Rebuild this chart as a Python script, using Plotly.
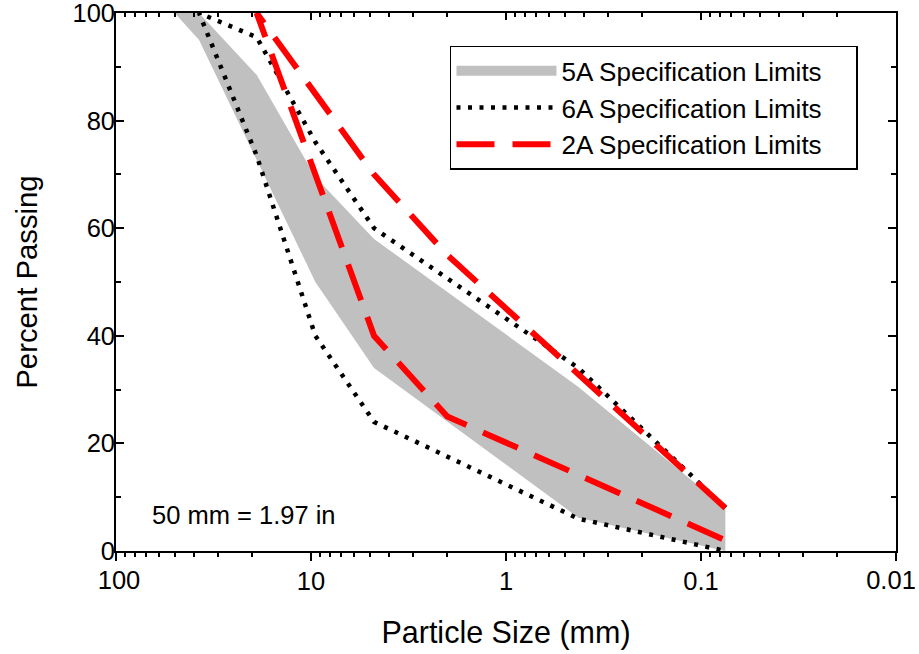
import plotly.graph_objects as go

# ---- data ----
sizes_5a_upper = [50, 37.5, 19, 9.5, 4.75, 0.425, 0.075]
pass_5a_upper = [100, 100, 88.5, 69.5, 58, 30.5, 8]
sizes_5a_lower = [50, 37.5, 9.5, 4.75, 0.425, 0.075]
pass_5a_lower = [100, 95, 50, 34, 6.2, 0]

sizes_6a_upper = [37.5, 19, 9.5, 4.75, 0.425, 0.075]
pass_6a_upper = [100, 95.5, 76, 60, 34, 8]
sizes_6a_lower = [37.5, 19, 9.5, 4.75, 0.425, 0.075]
pass_6a_lower = [100, 73.5, 40, 24, 6, 0]

sizes_2a_upper = [19, 4.75, 2.0, 0.075]
pass_2a_upper = [100, 70, 55, 8]
sizes_2a_lower = [19, 4.75, 2.0, 0.075]
pass_2a_lower = [100, 40, 25, 2]

x_tick_vals = [100, 10, 1, 0.1, 0.01]
x_tick_text = ["100", "10", "1", "0.1", "0.01"]
y_tick_vals = [0, 20, 40, 60, 80, 100]

names = ["5A Specification Limits", "6A Specification Limits", "2A Specification Limits"]
note_text = "50 mm = 1.97 in"

FONT = "Arial, Liberation Sans, sans-serif"
GRAY = "#c0c0c0"
CLEAR = "rgba(0,0,0,0)"

fig = go.Figure()

# 5A band (polygon: upper boundary then lower boundary reversed)
fig.add_trace(go.Scatter(
    x=sizes_5a_upper + sizes_5a_lower[::-1],
    y=pass_5a_upper + pass_5a_lower[::-1],
    mode="lines", fill="toself", fillcolor=GRAY,
    line=dict(width=0, color=GRAY), showlegend=False, hoverinfo="skip"))
# legend entry for the band
fig.add_trace(go.Scatter(
    x=[None], y=[None], mode="lines",
    line=dict(color=GRAY, width=16), name=names[0]))

# 6A limits (one dotted path: upper reversed, then lower)
fig.add_trace(go.Scatter(
    x=sizes_6a_upper[::-1] + sizes_6a_lower[1:],
    y=pass_6a_upper[::-1] + pass_6a_lower[1:],
    mode="lines", line=dict(color="black", width=4.5, dash="4px,7.5px"),
    name=names[1]))

# 2A limits
fig.add_trace(go.Scatter(
    x=sizes_2a_upper[::-1] + sizes_2a_lower[1:],
    y=pass_2a_upper[::-1] + pass_2a_lower[1:],
    mode="lines", line=dict(color="#ff0000", width=6, dash="38px,18px"),
    name=names[2]))

# empty traces so the extra overlay axes are drawn
for ax in ["x2", "x3", "x4"]:
    fig.add_trace(go.Scatter(x=[], y=[], xaxis=ax, showlegend=False))

axis_font = dict(family=FONT, size=25.5, color="black")
minor_out = dict(dtick="D1", ticks="outside", ticklen=4, tickwidth=1.5, tickcolor="black")
minor_in = dict(dtick="D1", ticks="inside", ticklen=4, tickwidth=1.5, tickcolor="black")

# end labels handled by overlay axes so they can be nudged inside the canvas
inner_text = [""] + x_tick_text[1:-1] + [""]


def end_label_axis(i, shift):
    return dict(
        type="log", range=[2, -2], autorange=False, overlaying="x", side="bottom",
        anchor="y", automargin=False,
        tickvals=[x_tick_vals[i]], ticktext=[x_tick_text[i]],
        ticks="outside", ticklen=8, tickcolor=CLEAR,
        showline=False, showgrid=False, zeroline=False,
        tickfont=axis_font, ticklabeloverflow="allow",
        ticklabelstandoff=-2, ticklabelshift=shift,
    )


fig.update_layout(
    width=919, height=654,
    margin=dict(l=116, r=23, t=13, b=103),
    plot_bgcolor="white", paper_bgcolor="white",
    showlegend=True,
    font=dict(family=FONT, color="black"),
    xaxis=dict(
        type="log", range=[2, -2], autorange=False, automargin=False,
        tickvals=x_tick_vals, ticktext=inner_text,
        ticks="outside", ticklen=8, tickwidth=1.5, tickcolor="black",
        minor=minor_out,
        showline=True, linewidth=1.8, linecolor="black", mirror=True,
        showgrid=False, zeroline=False,
        tickfont=axis_font, ticklabeloverflow="allow", ticklabelstandoff=-2,
        title=dict(text="Particle Size (mm)", font=dict(family=FONT, size=30.5, color="black"), standoff=28),
    ),
    xaxis2=dict(
        type="log", range=[2, -2], autorange=False, overlaying="x", side="top",
        anchor="y", tickvals=x_tick_vals, showticklabels=False, automargin=False,
        ticks="inside", ticklen=7, tickwidth=1.5, tickcolor="black",
        minor=minor_in,
        showline=False, showgrid=False, zeroline=False,
    ),
    xaxis3=end_label_axis(0, -3),
    xaxis4=end_label_axis(-1, 5),
    yaxis=dict(
        range=[0, 100], autorange=False, automargin=False,
        tickvals=y_tick_vals,
        ticks="inside", ticklen=8, tickwidth=1.5, tickcolor="black",
        minor=dict(dtick=10, ticks="inside", ticklen=5, tickwidth=1.5, tickcolor="black"),
        showline=True, linewidth=1.8, linecolor="black", mirror="ticks",
        showgrid=False, zeroline=False,
        tickfont=axis_font, ticklabeloverflow="allow", ticklabelstandoff=-6,
        title=dict(text="Percent Passing", font=dict(family=FONT, size=29.3, color="black"), standoff=26),
    ),
    legend=dict(
        x=0.4282, y=0.939, xanchor="left", yanchor="top",
        orientation="h", entrywidth=290,
        bgcolor="white", bordercolor="black", borderwidth=1.5,
        font=dict(family=FONT, size=26, color="black"),
        itemwidth=100, tracegroupgap=0,
    ),
    annotations=[dict(
        text=note_text, xref="paper", yref="paper", x=0.044, y=0.067,
        xanchor="left", yanchor="middle", showarrow=False,
        font=dict(family=FONT, size=25.5, color="black"))],
)

fig.write_html("out.html", post_script="document.body.style.margin='0';",
               config={"displayModeBar": False})
